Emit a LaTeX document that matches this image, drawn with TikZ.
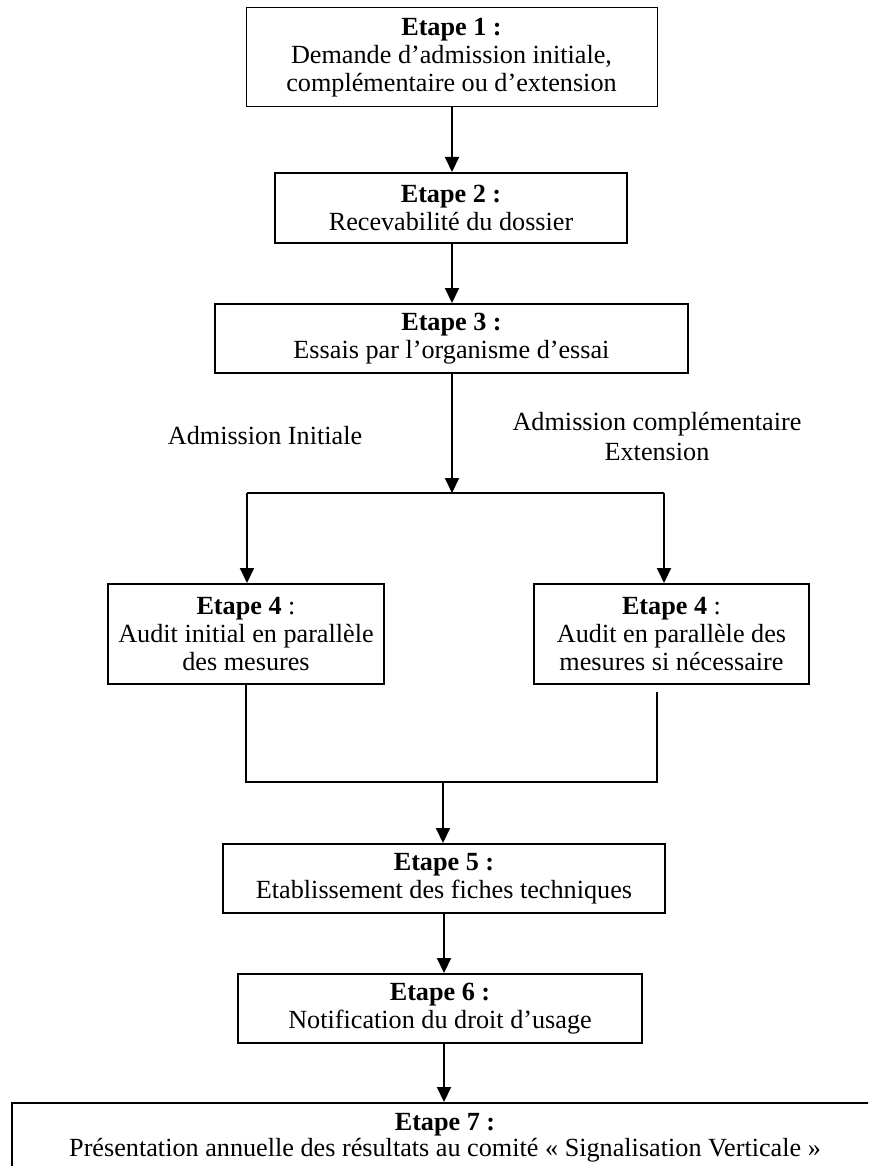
\documentclass[tikz,border=0pt]{standalone}
\usepackage{fontspec}
\setmainfont{Liberation Serif}
\usetikzlibrary{arrows.meta}
\begin{document}
\begin{tikzpicture}[x=0.5pt,y=-0.5pt,
  txt/.style={font=\fontsize{13.1}{14}\selectfont, align=center, inner sep=0pt},
  stepbox/.style={txt, draw, line width=1pt},
  firstbox/.style={txt, draw, line width=0.5pt},
  arr/.style={line width=1pt, -{Triangle[width=7pt,length=7.5pt]}},
  branchline/.style={line width=0.75pt},
  joinline/.style={line width=0.6pt}]
\useasboundingbox (0,0) rectangle (868,1166);
\clip (0,0) rectangle (868,1166);

\node[firstbox, minimum width=205.5pt, minimum height=49.5pt] (b1) at (451.5,57.5)
  {\textbf{Etape 1 :}\\Demande d’admission initiale,\\complémentaire ou d’extension};
\node[stepbox, minimum width=176pt, minimum height=35pt] (b2) at (451,208)
  {\textbf{Etape 2 :}\\Recevabilité du dossier};
\node[stepbox, minimum width=236.5pt, minimum height=34.5pt] (b3) at (451.5,338.5)
  {\textbf{Etape 3 :}\\Essais par l’organisme d’essai};

\node[txt] (la) at (265,436) {Admission Initiale};
\node[txt, font=\fontsize{13.1}{15}\selectfont] (lb) at (657,437) {Admission complémentaire\\Extension};

\node[stepbox, minimum width=138pt, minimum height=50pt] (b4l) at (246,634)
  {\textbf{Etape 4} :\\Audit initial en parallèle\\des mesures};
\node[stepbox, minimum width=137.5pt, minimum height=50pt] (b4r) at (671.5,634)
  {\textbf{Etape 4} :\\Audit en parallèle des\\mesures si nécessaire};

\node[stepbox, minimum width=221pt, minimum height=34.5pt] (b5) at (444,878.5)
  {\textbf{Etape 5 :}\\Etablissement des fiches techniques};
\node[stepbox, minimum width=202pt, minimum height=34.5pt] (b6) at (440,1008.5)
  {\textbf{Etape 6 :}\\Notification du droit d’usage};
\node[draw, line width=1pt, inner sep=0pt, font=\fontsize{13.1}{14}\selectfont,
      minimum width=450pt, minimum height=35pt, anchor=north west] (b7) at (11,1102)
  {\begin{tabular}{@{}c@{}}\textbf{Etape 7 :}\\[-1pt]Présentation annuelle des résultats au comité « Signalisation Verticale »\end{tabular}\hspace*{17pt}};

\coordinate (a1) at (452,0);
\coordinate (j1) at (452,493);
\coordinate (jl) at (247,493);
\coordinate (jr) at (664,493);
\coordinate (kl) at (246,782);
\coordinate (kr) at (657,782);
\coordinate (kt) at (657,692);
\coordinate (km) at (443,782);
\coordinate (a5) at (444,0);

\draw[arr] (a1 |- b1.south) -- (a1 |- b2.north);
\draw[arr] (a1 |- b2.south) -- (a1 |- b3.north);
\draw[arr] (a1 |- b3.south) -- (j1);
\draw[branchline] (jl) -- (jr);
\draw[arr] (jl) -- (jl |- b4l.north);
\draw[arr] (jr) -- (jr |- b4r.north);
\draw[joinline] (kl |- b4l.south) -- (kl) -- (kr) -- (kt);
\draw[arr] (km) -- (km |- b5.north);
\draw[arr] (a5 |- b5.south) -- (a5 |- b6.north);
\draw[arr] (a5 |- b6.south) -- (a5 |- b7.north);
\end{tikzpicture}
\end{document}
